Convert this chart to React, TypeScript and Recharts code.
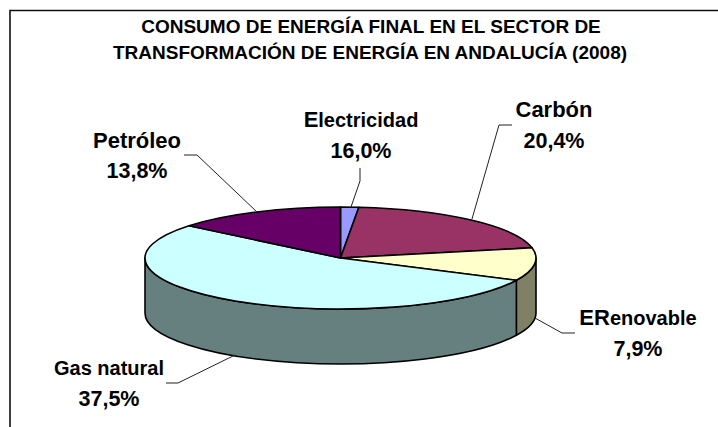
import React from 'react';
import { PieChart, Pie, Cell } from 'recharts';

// slice sizes read from the drawn angles (they do not follow the printed percentages)
const categories = ['Electricidad', 'Carbón', 'ERenovable', 'Gas natural', 'Petróleo'];
const sliceValues = [1.5, 20.3, 10.4, 53.7, 14.1];
const printedValues = ['16,0%', '20,4%', '7,9%', '37,5%', '13,8%'];
const titleLines = [
    'CONSUMO DE ENERGÍA FINAL EN EL SECTOR DE',
    'TRANSFORMACIÓN DE ENERGÍA EN ANDALUCÍA (2008)',
];

const topColors = ['#9999FF', '#993366', '#FFFFCC', '#CCFFFF', '#660066'];
const wallColors = ['#66667F', '#662244', '#808066', '#668080', '#440044'];

const data = categories.map((name, i) => ({ name, value: sliceValues[i] }));

const CX = 340.5;
const CY = 258;
const RX = 195.5;
const SQUASH = 51 / 195.5;
const DEPTH = 55;
const RAD = Math.PI / 180;

const px = (cx: number, r: number, a: number) => cx + r * Math.cos(a * RAD);
const py = (cy: number, r: number, a: number, dy = 0) => cy - r * SQUASH * Math.sin(a * RAD) + dy;

// recharts gives angles going clockwise from 90 down to -270
const TopSlice = (props: any) => {
    const { cx, cy, outerRadius: r, startAngle, endAngle, fill } = props;
    const large = Math.abs(startAngle - endAngle) > 180 ? 1 : 0;
    const d = `M${cx},${cy} L${px(cx, r, startAngle)},${py(cy, r, startAngle)} A${r},${r * SQUASH} 0 ${large} 1 ${px(cx, r, endAngle)},${py(cy, r, endAngle)} Z`;
    return <path d={d} fill={fill} stroke="#000" strokeWidth={1.6} strokeLinejoin="round" />;
};

const WallSlice = (props: any) => {
    const { cx, cy, outerRadius: r, startAngle, endAngle, fill } = props;
    // only the front half of the rim can be seen: -180..0
    const from = Math.min(startAngle, 0);
    const to = Math.max(endAngle, -180);
    if (from <= to) return <g />;
    const large = from - to > 180 ? 1 : 0;
    const d = [
        `M${px(cx, r, from)},${py(cy, r, from)}`,
        `A${r},${r * SQUASH} 0 ${large} 1 ${px(cx, r, to)},${py(cy, r, to)}`,
        `L${px(cx, r, to)},${py(cy, r, to, DEPTH)}`,
        `A${r},${r * SQUASH} 0 ${large} 0 ${px(cx, r, from)},${py(cy, r, from, DEPTH)}`,
        'Z',
    ].join(' ');
    return <path d={d} fill={fill} stroke="#000" strokeWidth={1.6} strokeLinejoin="round" />;
};

// text anchor and leader line for each slice label
const labelLayout = [
    { x: 361, y1: 127, y2: 158, size: 20, big: 1, line: '360,168 360,181 351,207' },
    { x: 554, y1: 117, y2: 148, size: 22, big: 0, line: '512,125 499,125 472,219' },
    { x: 638, y1: 325, y2: 356, size: 20, big: 2, line: '575,333 562,333 535,318' },
    { x: 109, y1: 375, y2: 406, size: 20, big: 0, line: '166,383 178,383 235,355' },
    { x: 137, y1: 148, y2: 178, size: 22, big: 0, line: '184,155 197,155 257,212' },
];

const SliceLabel = (props: any) => {
    const { index } = props;
    const l = labelLayout[index];
    const name = categories[index];
    return (
        <g fontFamily="Liberation Sans" fontWeight="bold" fill="#000" textAnchor="middle">
            <polyline points={l.line} fill="none" stroke="#222" strokeWidth={1} />
            <text x={l.x} y={l.y1} fontSize={l.size}>
                {l.big > 0 && <tspan fontSize={l.size + 2}>{name.slice(0, l.big)}</tspan>}
                <tspan>{name.slice(l.big)}</tspan>
            </text>
            <text x={l.x} y={l.y2} fontSize={21.5}>{printedValues[index]}</text>
        </g>
    );
};

export default function App() {
    return (
        <div style={{ position: 'absolute', left: 0, top: 0, width: 718, height: 427, background: '#fff' }}>
            <PieChart width={718} height={427} margin={{ top: 0, right: 0, bottom: 0, left: 0 }}>
                <path d="M10,427 L10,10.5 L718,10.5" fill="none" stroke="#111" strokeWidth={1.6} />
                <text x={371} y={33} textAnchor="middle" fontFamily="Liberation Sans" fontWeight="bold" fontSize={19}>{titleLines[0]}</text>
                <text x={370} y={59} textAnchor="middle" fontFamily="Liberation Sans" fontWeight="bold" fontSize={19}>{titleLines[1]}</text>
                <Pie data={data} dataKey="value" nameKey="name" cx={CX} cy={CY} outerRadius={RX} startAngle={90} endAngle={-270}
                    paddingAngle={0} stroke="none" shape={WallSlice} isAnimationActive={false} legendType="none">
                    {data.map((_, i) => <Cell key={`wall-${i}`} fill={wallColors[i]} />)}
                </Pie>
                <Pie data={data} dataKey="value" nameKey="name" cx={CX} cy={CY} outerRadius={RX} startAngle={90} endAngle={-270}
                    paddingAngle={0} stroke="none" shape={TopSlice} label={SliceLabel} labelLine={false} isAnimationActive={false} legendType="none">
                    {data.map((_, i) => <Cell key={`top-${i}`} fill={topColors[i]} />)}
                </Pie>
            </PieChart>
        </div>
    );
}
